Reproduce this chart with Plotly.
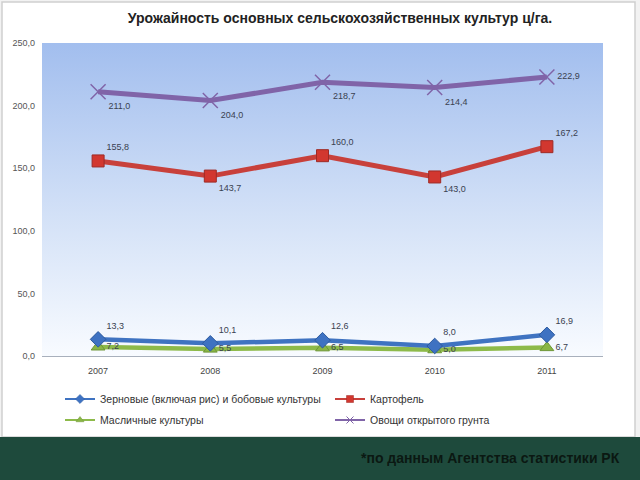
import plotly.graph_objects as go

years = ["2007", "2008", "2009", "2010", "2011"]
grain = [13.3, 10.1, 12.6, 8.0, 16.9]
potato = [155.8, 143.7, 160.0, 143.0, 167.2]
oilseed = [7.2, 5.5, 6.5, 5.0, 6.7]
vegetables = [211.0, 204.0, 218.7, 214.4, 222.9]

names = ["Зерновые (включая рис) и бобовые культуры", "Картофель",
         "Масличные культуры", "Овощи открытого грунта"]
title = "Урожайность основных сельскохозяйственных культур ц/га."
footnote = "*по данным Агентства статистики РК"

y_min, y_max = 0, 250
x_lo, x_hi = -0.5, len(years) - 0.5

W, H = 640, 480
ml, mr, mt, mb = 42, 37, 43, 124
pw, ph = W - ml - mr, H - mt - mb


def px_x(p):
    return (p - ml) / pw


def px_y(p):
    return (H - mb - p) / ph


def fmt(vals):
    return [f"{v:.1f}".replace(".", ",") for v in vals]


FONT = "Liberation Sans, Arial, sans-serif"
xs = list(range(len(years)))

fig = go.Figure()

# gradient background of plot area
fig.add_trace(go.Scatter(
    x=[x_lo, x_hi, x_hi, x_lo, x_lo], y=[y_min, y_min, y_max, y_max, y_min],
    mode="none", fill="toself",
    fillgradient=dict(type="vertical",
                      colorscale=[[0, "#f8fbff"], [0.45, "#d3e1f7"], [1, "#a2beee"]]),
    hoverinfo="skip", showlegend=False))

series = [
    (vegetables, names[3], "#8064a8", dict(symbol="x-thin-open", size=15,
                                            line=dict(width=1.5, color="#8a70b4")), 5,
     ["bottom right", "bottom right", "bottom right", "bottom right", "middle right"], "legend4",
     dict(symbol="x-thin-open", size=7, line=dict(width=1, color="#8a70b4"))),
    (potato, names[1], "#c8403b", dict(symbol="square", size=12, color="#d2372f",
                                        line=dict(width=1, color="#9e2a25")), 5,
     ["top right", "bottom right", "top right", "bottom right", "top right"], "legend2",
     dict(symbol="square", size=7, color="#d2372f", line=dict(width=0.5, color="#9e2a25"))),
    (oilseed, names[2], "#8dba4a", dict(symbol="triangle-up", size=12, color="#8ab646",
                                         line=dict(width=1, color="#6e9636")), 4.5,
     ["middle right"] * 5, "legend3",
     dict(symbol="triangle-up", size=7, color="#8ab646", line=dict(width=0.5, color="#6e9636"))),
    (grain, names[0], "#3f73c1", dict(symbol="diamond", size=12, color="#3e72c2",
                                       line=dict(width=1, color="#2c5a9e")), 4.5,
     ["top right"] * 5, "legend",
     dict(symbol="diamond", size=7, color="#3e72c2", line=dict(width=0.5, color="#2c5a9e"))),
]

for vals, nm, col, mk, lw, tpos, lg, lmk in series:
    fig.add_trace(go.Scatter(
        x=xs, y=vals, name=nm, mode="lines+markers+text",
        line=dict(color=col, width=lw), marker=mk,
        text=fmt(vals), textposition=tpos,
        textfont=dict(family=FONT, size=9, color="#3a4150"),
        showlegend=False, cliponaxis=False))
    # legend-only entry with small symbol
    fig.add_trace(go.Scatter(
        x=[None], y=[None], name=nm, mode="lines+markers",
        line=dict(color=col, width=2), marker=lmk, legend=lg, hoverinfo="skip"))

shapes = [
    # white card
    dict(type="rect", xref="paper", yref="paper", layer="below",
         x0=px_x(2), x1=px_x(635), y0=px_y(437), y1=px_y(2),
         fillcolor="white", line=dict(color="#cfcfcf", width=1.5)),
    # green footer band
    dict(type="rect", xref="paper", yref="paper", layer="below",
         x0=px_x(-2), x1=px_x(W + 2), y0=px_y(H + 2), y1=px_y(437),
         fillcolor="#1e4a3c", line=dict(width=0)),
]


def leg(xp, yp):
    return dict(orientation="h", x=px_x(xp), xanchor="left", y=px_y(yp),
                yanchor="middle", bgcolor="rgba(0,0,0,0)",
                font=dict(family=FONT, size=10.5, color="#333"), itemwidth=30)


fig.update_layout(
    width=W, height=H,
    margin=dict(l=ml, r=mr, t=mt, b=mb),
    paper_bgcolor="#f2f2f2", plot_bgcolor="rgba(0,0,0,0)",
    separators=", ",
    font=dict(family=FONT, size=10, color="#444"),
    title=dict(text=title, x=px_x(340), xref="paper", xanchor="center",
               y=1 - 18 / H, yanchor="middle",
               font=dict(family=FONT, size=14, color="#222", weight="bold")),
    xaxis=dict(range=[x_lo, x_hi], tickvals=xs, ticktext=years, showgrid=False,
               zeroline=False, showline=True, linecolor="#a8b0bc", linewidth=1,
               ticks="", tickfont=dict(size=9, color="#444"), ticklabelstandoff=6),
    yaxis=dict(range=[y_min, y_max], dtick=50, tickformat=".1f", showgrid=True,
               gridcolor="#8d9cb0", gridwidth=1, zeroline=False, showline=False,
               ticks="", tickfont=dict(size=9, color="#555"), ticklabelstandoff=6),
    legend=leg(60, 399),
    legend2=leg(330, 399),
    legend3=leg(60, 420),
    legend4=leg(330, 420),
    shapes=shapes,
    annotations=[dict(text=footnote, xref="paper", yref="paper",
                      x=px_x(622), y=px_y(458), xanchor="right", yanchor="middle",
                      showarrow=False,
                      font=dict(family=FONT, size=14, color="#0b1812", weight="bold"))],
)

fig.write_html("out.html")
